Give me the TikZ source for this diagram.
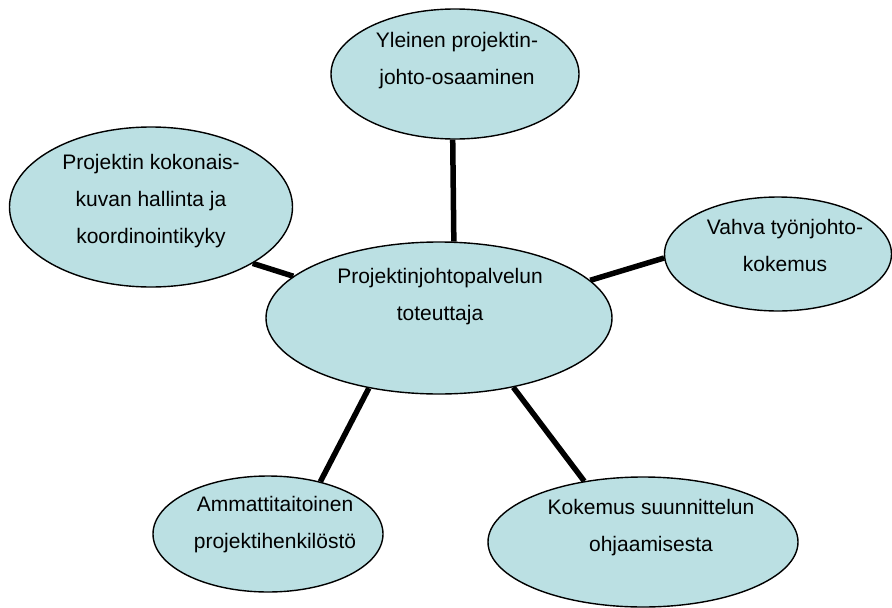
\documentclass[tikz,border=0pt]{standalone}
\usepackage{fontspec}
\setmainfont{Liberation Sans}
\usetikzlibrary{shapes.geometric,backgrounds}
\definecolor{bubble}{RGB}{187,224,227}
\begin{document}
\begin{tikzpicture}[x=1pt,y=-1pt,
  bub/.style={draw,ellipse,fill=bubble,line width=1.4pt,inner sep=0pt},
  txt/.style={align=center,font=\fontsize{21}{37}\selectfont},
  link/.style={line width=5.5pt}]

\useasboundingbox (0,0) rectangle (892,608);

\node (hub) at (439,318)[bub,minimum width=346pt,minimum height=152pt]{};
\node (top) at (455,74)[bub,minimum width=248pt,minimum height=130pt]{};
\node (left) at (151,207)[bub,minimum width=283pt,minimum height=160pt]{};
\node (right) at (778,254)[bub,minimum width=227pt,minimum height=114pt]{};
\node (botl) at (268,534)[bub,minimum width=230pt,minimum height=116pt]{};
\node (botr) at (643,542)[bub,minimum width=310pt,minimum height=130pt]{};

\node (hubtxt) at (440,297)[txt]{Projektinjohtopalvelun\\toteuttaja};
\node (toptxt) at (457,61)[txt]{Yleinen projektin-\\johto-osaaminen};
\node (lefttxt) at (151,201)[txt]{Projektin kokonais-\\kuvan hallinta ja\\koordinointikyky};
\node (righttxt) at (785,245)[txt]{Vahva työnjohto-\\kokemus};
\node (botltxt) at (275,525)[txt]{Ammattitaitoinen\\projektihenkilöstö};
\node (botrtxt) at (651,528)[txt]{Kokemus suunnittelun\\ohjaamisesta};

% spokes behind the bubbles
\begin{scope}[on background layer]
\draw[link] (top.268) -- (hub.79);
\draw[link] (left.331) -- (hub.164);
\draw[link] (right.182) -- (hub.14);
\draw[link] (botl.45) -- (hub.225);
\draw[link] (botr.134) -- (hub.317);
\end{scope}

\end{tikzpicture}
\end{document}
